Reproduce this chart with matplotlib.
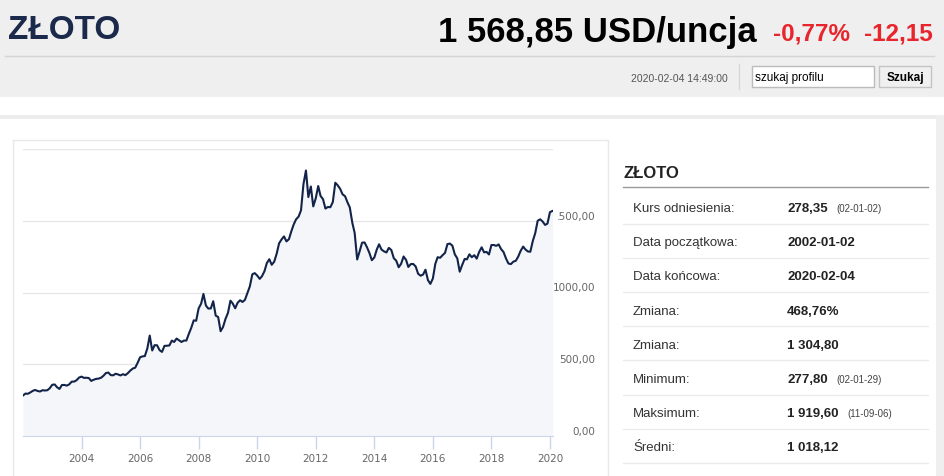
import pandas as pd
import matplotlib
matplotlib.use('Agg')
import matplotlib.pyplot as plt
from matplotlib import font_manager
from matplotlib.patches import Rectangle
from matplotlib.transforms import Bbox
import matplotlib.dates as mdates

# gold price, USD per ounce, one value per month
prices = [
    282, 296, 294, 303, 314, 321, 314, 310, 319, 317, 319, 333,
    357, 359, 340, 328, 355, 356, 351, 360, 379, 379, 389, 407,
    414, 405, 406, 404, 384, 392, 398, 400, 406, 420, 439, 442,
    424, 423, 434, 429, 422, 431, 424, 438, 456, 470, 476, 510,
    549, 555, 557, 610, 700, 596, 633, 632, 598, 586, 628, 629,
    631, 665, 655, 679, 667, 655, 665, 665, 712, 754, 806, 803,
    889, 922, 990, 909, 888, 889, 939, 839, 829, 730, 760, 816,
    858, 943, 924, 890, 928, 946, 934, 949, 996, 1043, 1127, 1135,
    1118, 1095, 1113, 1148, 1205, 1232, 1193, 1215, 1271, 1343, 1370, 1391,
    1356, 1372, 1424, 1474, 1510, 1529, 1572, 1756, 1850, 1665, 1739, 1600,
    1656, 1742, 1673, 1650, 1585, 1596, 1594, 1630, 1765, 1747, 1722, 1684,
    1671, 1627, 1593, 1487, 1414, 1230, 1286, 1347, 1349, 1316, 1275, 1225,
    1244, 1300, 1336, 1299, 1287, 1279, 1311, 1296, 1239, 1222, 1176, 1200,
    1251, 1227, 1178, 1198, 1199, 1181, 1131, 1117, 1125, 1159, 1086, 1060,
    1097, 1200, 1246, 1242, 1260, 1276, 1337, 1341, 1326, 1266, 1238, 1145,
    1192, 1234, 1231, 1266, 1246, 1260, 1236, 1283, 1315, 1280, 1283, 1265,
    1331, 1331, 1325, 1335, 1303, 1282, 1238, 1202, 1198, 1215, 1221, 1250,
    1291, 1320, 1300, 1286, 1284, 1359, 1413, 1500, 1510, 1495, 1471, 1480,
    1560, 1568.85,
]
dates = list(pd.date_range('2002-01-01', '2020-01-01', freq='MS')) + [pd.Timestamp('2020-02-04')]

year_ticks = [2004, 2006, 2008, 2010, 2012, 2014, 2016, 2018, 2020]
y_ticks = [0, 500, 1000, 1500, 2000]
y_tick_labels = ['0,00', '500,00', '1000,00', '1500,00']

title = 'ZŁOTO'
price_text = '1 568,85 USD/uncja'
change_pct = '-0,77%'
change_abs = '-12,15'
timestamp = '2020-02-04 14:49:00'

table_labels = ['Kurs odniesienia:', 'Data początkowa:', 'Data końcowa:', 'Zmiana:',
                'Zmiana:', 'Minimum:', 'Maksimum:', 'Średni:']
table_values = ['278,35', '2002-01-02', '2020-02-04', '468,76%',
                '1 304,80', '277,80', '1 919,60', '1 018,12']
table_notes = ['(02-01-02)', '', '', '', '', '(02-01-29)', '(11-09-06)', '']

NAVY = '#1b2a4a'
RED = '#e8252d'
GRID = '#e6e6e6'

names = {f.name for f in font_manager.fontManager.ttflist}
narrow = 'Liberation Sans Narrow' if 'Liberation Sans Narrow' in names else 'Liberation Sans'
plt.rcParams['font.family'] = ['Liberation Sans', 'DejaVu Sans']

W, H = 945, 477
fig = plt.figure(figsize=(W / 100, H / 100), dpi=100)

# page background, drawn in pixel coordinates
bg = fig.add_axes([0, 0, 1, 1])
bg.set_xlim(0, W)
bg.set_ylim(H, 0)
bg.axis('off')

bg.add_patch(Rectangle((0, 0), W, 98, color='#efefef', lw=0))
bg.plot([5, 934], [57, 57], color='#d4d4d4', lw=1)
bg.plot([739, 739], [65, 90], color='#d8d8d8', lw=1)
bg.add_patch(Rectangle((0, 116), W, 4, color='#ececec', lw=0))
bg.add_patch(Rectangle((936, 116), 9, H, color='#efefef', lw=0))
bg.add_patch(Rectangle((13, 141), 595, 400, fill=False, ec='#e8e8e8', lw=1))

bg.text(8, 39, title, fontsize=24, fontweight='bold', color=NAVY, family=narrow)
bg.text(757, 42, price_text, fontsize=25, fontweight='bold', color='black',
        ha='right', family=narrow)
bg.text(773, 40, change_pct, fontsize=17.5, fontweight='bold', color=RED, family=narrow)
bg.text(864, 40, change_abs, fontsize=17.5, fontweight='bold', color=RED, family=narrow)
bg.text(728, 82, timestamp, fontsize=7.5, color='#555555', ha='right')

bg.add_patch(Rectangle((752, 67), 122, 21, fc='white', ec='#bbbbbb', lw=1))
bg.text(755, 81, 'szukaj profilu', fontsize=8.5, color='black')
bg.add_patch(Rectangle((879, 67), 52, 21, fc='#f0f0f0', ec='#c4c4c4', lw=1))
bg.text(905, 81.5, 'Szukaj', fontsize=8.5, fontweight='bold', color='black', ha='center')

# stats table
bg.text(623, 178, title, fontsize=12, fontweight='bold', color='#222222')
bg.plot([623, 928], [188, 188], color='#999999', lw=1)
for i, (lab, val, note) in enumerate(zip(table_labels, table_values, table_notes)):
    base = 212 + i * 34.2
    bg.text(633, base, lab, fontsize=9.5, color='#333333')
    t = bg.text(787, base, val, fontsize=9.5, fontweight='bold', color='#222222')
    if note:
        fig.canvas.draw()
        ext = t.get_window_extent()
        bg.text(ext.x1 + 9, base, note, fontsize=7, color='#444444')
    bg.plot([623, 928], [base + 12.5, base + 12.5], color='#ebebeb', lw=1)

# y labels sit right of the plot; in the page the first digit of the top one is cut off
for v, lab in zip(y_ticks, y_tick_labels):
    ypx = 437 - v * 0.1435
    t = bg.text(595, ypx - 2, lab, fontsize=7.5, color='#666666', ha='right',
                family='DejaVu Sans')
    if v == 1500:
        t.set_clip_path(None)
        t.set_clip_box(Bbox([[558, 0], [W, H]]))
        t.set_clip_on(True)

# price chart
ax = fig.add_axes([23 / W, (H - 437) / H, (553 - 23) / W, (437 - 150) / H])
ax.fill_between(dates, prices, 0, color='#f5f6f9', lw=0)
ax.plot(dates, prices, color='#13244a', lw=1.5)
ax.set_ylim(0, 2000)
ax.set_xlim(pd.Timestamp('2002-01-01'), pd.Timestamp('2020-02-08'))
ax.set_yticks(y_ticks)
ax.yaxis.grid(True, color=GRID, lw=1)
ax.set_axisbelow(True)
ax.tick_params(axis='y', length=0, labelleft=False)
ax.set_xticks([pd.Timestamp(f'{y}-01-01') for y in year_ticks])
ax.xaxis.set_major_formatter(mdates.DateFormatter('%Y'))
ax.tick_params(axis='x', length=9, width=1, color='#ccd6eb', labelsize=7.5,
               labelcolor='#666666', pad=3)
for lab in ax.get_xticklabels():
    lab.set_family('DejaVu Sans')
for side in ['top', 'left', 'right']:
    ax.spines[side].set_visible(False)
ax.spines['bottom'].set_color('#ccd6eb')

fig.savefig('out.png', dpi=100)
